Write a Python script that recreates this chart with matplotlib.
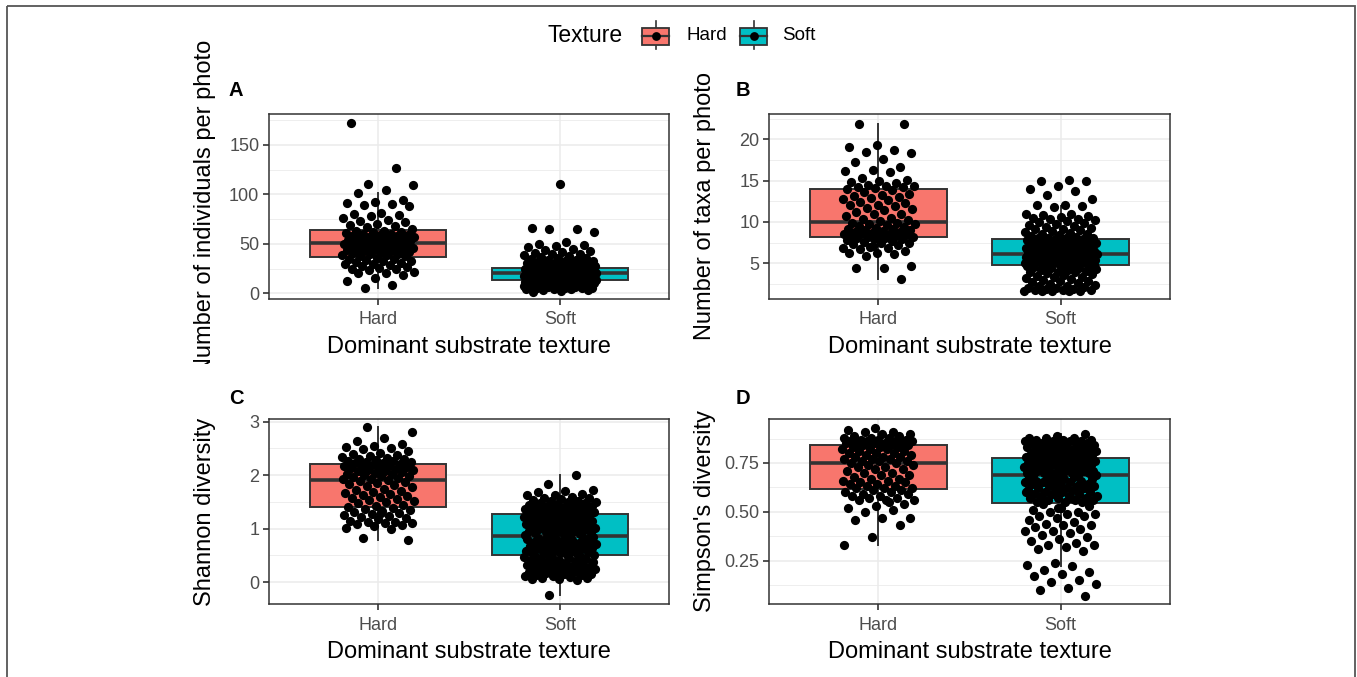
import matplotlib
matplotlib.use("Agg")
import matplotlib.pyplot as plt
import numpy as np
from matplotlib.patches import Rectangle
from matplotlib.transforms import Bbox

plt.rcParams['font.family'] = ['Liberation Sans', 'DejaVu Sans']

# ---------------- data ----------------
categories = ["Hard", "Soft"]
texture_colors = ["#F8766D", "#00BFC4"]
panel_letters = ["A", "B", "C", "D"]
y_titles = ["Number of individuals per photo", "Number of taxa per photo",
            "Shannon diversity", "Simpson's diversity"]
x_title = "Dominant substrate texture"
legend_title = "Texture"

# Panel A: individuals per photo
A_hard = [172, 127, 111, 109, 104, 101, 94, 92, 91, 90, 89, 88, 81, 80, 79, 78, 76, 74, 73, 72, 70, 69, 68, 67, 65,
          63, 63, 62, 62, 61, 60, 60, 59, 59, 58, 58, 57, 57, 56, 56, 55, 55, 54, 54, 53, 53, 52, 52, 51, 51,
          50, 50, 49, 49, 48, 48, 47, 47, 46, 46, 45, 45, 44, 44, 43, 43, 42, 42, 41, 40, 40, 39, 39, 38, 38,
          36, 35, 35, 34, 33, 33, 32, 31, 30, 30, 29, 28, 27, 26, 25, 25, 24, 22, 21, 20, 18, 15, 12, 8, 5]
A_soft = [111, 66, 65, 65, 62, 52, 50, 49, 48, 47, 45, 44, 43, 42, 41, 40, 40, 39, 38, 37, 36, 36, 35, 34, 34,
          33, 33, 32, 32, 31, 31, 30, 30, 29, 29, 29, 28, 28, 28, 27, 27, 27, 27, 26, 26,
          26, 26, 25, 25, 25, 25, 25, 24, 24, 24, 24, 24, 24, 23, 23, 23, 23, 23, 23, 22, 22, 22, 22, 22,
          22, 22, 22, 21, 21, 21, 21, 21, 21, 21, 21, 21, 21, 21, 21, 21, 21, 21, 21, 21, 21,
          20, 20, 20, 20, 19, 19, 19, 19, 19, 18, 18, 18, 18, 18, 17, 17, 17, 17, 17, 16, 16, 16, 16, 16,
          16, 15, 15, 15, 15, 15, 15, 14, 14, 14, 14, 14, 14, 13, 13, 13, 13, 13, 13, 13, 13,
          12, 12, 12, 12, 12, 11, 11, 11, 11, 11, 10, 10, 10, 10, 10, 9, 9, 9, 9, 9, 8, 8, 8, 8, 8,
          7, 7, 7, 7, 7, 6, 6, 6, 6, 5, 5, 5, 5, 4, 4, 4, 3, 3, 2, 1]

# Panel B: taxa per photo
B_hard = [21.8, 21.8, 19.3, 19.0, 18.7, 18.5, 18.3, 17.6, 17.2, 16.7, 16.3, 16.2, 16.0, 15.3, 15.1, 14.9, 14.8,
          14.7, 14.5, 14.4, 14.3, 14.2, 14.2, 14.1, 14.0,
          13.8, 13.6, 13.4, 13.2, 13.1, 13.0, 12.9, 12.8, 12.6, 12.4, 12.3, 12.1, 12.0, 11.9, 11.7, 11.6, 11.4,
          11.2, 11.0, 10.9, 10.7, 10.5, 10.3, 10.2, 10.1,
          9.9, 9.9, 9.8, 9.7, 9.6, 9.5, 9.4, 9.3, 9.2, 9.1, 9.0, 9.0, 8.9, 8.8, 8.8, 8.7, 8.6, 8.6, 8.5, 8.4,
          8.4, 8.3, 8.3, 8.2, 8.2,
          8.1, 8.0, 7.9, 7.9, 7.8, 7.7, 7.6, 7.5, 7.4, 7.3, 7.2, 7.0, 6.9, 6.8, 6.7, 6.5, 6.3, 6.2, 6.1, 5.9,
          4.7, 4.4, 4.4, 3.1, 7.1]
B_soft = [15.1, 15.0, 14.9, 14.4, 14.0, 13.7, 13.3, 12.8, 12.0, 12.0, 11.9, 11.8, 11.0, 10.9, 10.8, 10.7, 10.6,
          10.5, 10.4, 10.3, 10.2, 10.1, 10.0, 9.9, 9.8, 9.6, 9.5, 9.4, 9.3, 9.2, 9.1, 9.0, 8.9, 8.8, 8.7, 8.6,
          8.5, 8.4, 8.3, 8.2, 8.1, 8.1, 8.0, 8.0, 7.9,
          7.9, 7.8, 7.8, 7.7, 7.7, 7.6, 7.6, 7.5, 7.5, 7.4, 7.4, 7.3, 7.3, 7.2, 7.2, 7.1, 7.1, 7.0, 7.0, 6.9,
          6.9, 6.9, 6.8, 6.8, 6.8, 6.7, 6.7, 6.6, 6.6, 6.6, 6.5, 6.5, 6.5, 6.4, 6.4, 6.4, 6.3, 6.3, 6.3, 6.2,
          6.2, 6.2, 6.1, 6.1, 6.1,
          6.0, 6.0, 6.0, 5.9, 5.9, 5.9, 5.8, 5.8, 5.8, 5.7, 5.7, 5.7, 5.6, 5.6, 5.6, 5.5, 5.5, 5.5, 5.4, 5.4,
          5.4, 5.3, 5.3, 5.3, 5.2, 5.2, 5.2, 5.1, 5.1, 5.1, 5.0, 5.0, 5.0, 5.0, 4.9, 4.9, 4.9, 4.9, 4.8, 4.8,
          4.8, 4.8, 6.0, 5.5, 5.2,
          4.7, 4.7, 4.6, 4.6, 4.5, 4.5, 4.4, 4.4, 4.3, 4.2, 4.2, 4.1, 4.0, 4.0, 3.9, 3.8, 3.7, 3.6, 3.5, 3.4,
          3.3, 3.2, 3.1, 3.0, 2.9, 2.8, 2.7, 2.6, 2.5, 2.4, 2.3, 2.2, 2.1, 2.0, 2.0, 1.9, 1.9, 1.8, 1.8, 1.8,
          1.7, 1.7, 1.7, 1.6, 1.6]

# Panel C: Shannon diversity
C_hard = [2.90, 2.80, 2.70, 2.63, 2.58, 2.55, 2.52, 2.50, 2.49, 2.45, 2.42, 2.40, 2.38, 2.36, 2.34, 2.32, 2.31,
          2.30, 2.28, 2.27, 2.26, 2.25, 2.24, 2.23, 2.22,
          2.20, 2.19, 2.18, 2.17, 2.16, 2.15, 2.14, 2.13, 2.12, 2.10, 2.09, 2.08, 2.07, 2.05, 2.04, 2.03, 2.02,
          2.00, 1.99, 1.98, 1.96, 1.95, 1.93, 1.92, 1.91,
          1.89, 1.87, 1.85, 1.83, 1.81, 1.79, 1.77, 1.75, 1.73, 1.71, 1.69, 1.67, 1.65, 1.63, 1.61, 1.59, 1.57,
          1.55, 1.53, 1.51, 1.49, 1.47, 1.45, 1.43, 1.41,
          1.39, 1.37, 1.35, 1.33, 1.31, 1.29, 1.27, 1.25, 1.24, 1.22, 1.20, 1.18, 1.15, 1.13, 1.12, 1.11, 1.10,
          1.09, 1.06, 1.04, 1.02, 1.00, 0.82, 0.78, 1.30]
C_soft = [2.00, 1.83, 1.72, 1.70, 1.68, 1.65, 1.63, 1.62, 1.60, 1.58, 1.57, 1.55, 1.54, 1.52, 1.51, 1.50, 1.49,
          1.48, 1.47, 1.46, 1.45, 1.44, 1.43, 1.42, 1.41, 1.40, 1.39, 1.38, 1.37, 1.36, 1.36, 1.35, 1.34, 1.33,
          1.33, 1.32, 1.31, 1.31, 1.30, 1.30, 1.29, 1.29, 1.28, 1.28, 1.27,
          1.26, 1.25, 1.24, 1.23, 1.22, 1.21, 1.20, 1.19, 1.18, 1.17, 1.16, 1.15, 1.14, 1.13, 1.12, 1.11, 1.10,
          1.09, 1.08, 1.07, 1.06, 1.05, 1.04, 1.03, 1.02, 1.01, 1.00, 0.99, 0.98, 0.97, 0.96, 0.95, 0.94, 0.93,
          0.92, 0.91, 0.90, 0.89, 0.88, 0.88, 1.05, 1.10, 0.95, 1.00, 1.15,
          0.86, 0.85, 0.84, 0.83, 0.82, 0.81, 0.80, 0.79, 0.78, 0.77, 0.76, 0.75, 0.74, 0.73, 0.72, 0.71, 0.70,
          0.69, 0.68, 0.67, 0.66, 0.65, 0.64, 0.63, 0.62, 0.61, 0.60, 0.59, 0.58, 0.57, 0.56, 0.55, 0.54, 0.53,
          0.52, 0.51, 0.50, 0.70, 0.65, 0.80, 0.60, 0.75, 0.55, 0.85, 0.68,
          0.49, 0.48, 0.47, 0.46, 0.45, 0.44, 0.43, 0.42, 0.41, 0.40, 0.39, 0.37, 0.36, 0.35, 0.34, 0.33, 0.32,
          0.31, 0.30, 0.29, 0.28, 0.27, 0.26, 0.25, 0.24, 0.23, 0.22, 0.21, 0.20, 0.19, 0.18, 0.17, 0.16, 0.15,
          0.14, 0.13, 0.12, 0.11, 0.10, 0.08, 0.07, 0.06, 0.05, 0.03, -0.25]

# Panel D: Simpson's diversity
D_hard = [0.93, 0.92, 0.91, 0.91, 0.90, 0.90, 0.89, 0.89, 0.88, 0.88, 0.88, 0.87, 0.87, 0.87, 0.86, 0.86, 0.86,
          0.86, 0.85, 0.85, 0.85, 0.85, 0.85, 0.84, 0.84,
          0.84, 0.83, 0.83, 0.83, 0.82, 0.82, 0.82, 0.81, 0.81, 0.80, 0.80, 0.80, 0.79, 0.79, 0.78, 0.78, 0.78,
          0.77, 0.77, 0.77, 0.76, 0.76, 0.76, 0.75, 0.75,
          0.74, 0.74, 0.73, 0.73, 0.72, 0.72, 0.71, 0.70, 0.70, 0.69, 0.69, 0.68, 0.67, 0.67, 0.66, 0.66, 0.65,
          0.65, 0.64, 0.64, 0.63, 0.63, 0.62, 0.62, 0.62,
          0.61, 0.61, 0.60, 0.60, 0.59, 0.59, 0.58, 0.58, 0.57, 0.57, 0.56, 0.56, 0.56, 0.54, 0.53, 0.52, 0.51,
          0.50, 0.47, 0.47, 0.46, 0.43, 0.37, 0.33, 0.55]
D_soft = [0.90, 0.89, 0.88, 0.88, 0.88, 0.87, 0.87, 0.87, 0.86, 0.86, 0.86, 0.86, 0.85, 0.85, 0.85, 0.85, 0.84,
          0.84, 0.84, 0.84, 0.83, 0.83, 0.83, 0.83, 0.82, 0.82, 0.82, 0.82, 0.81, 0.81, 0.81, 0.81, 0.80, 0.80,
          0.80, 0.80, 0.79, 0.79, 0.79, 0.79, 0.78, 0.78, 0.78, 0.78, 0.78,
          0.777, 0.77, 0.77, 0.77, 0.77, 0.76, 0.76, 0.76, 0.76, 0.76, 0.75, 0.75, 0.75, 0.75, 0.75, 0.74, 0.74,
          0.74, 0.74, 0.74, 0.73, 0.73, 0.73, 0.73, 0.72, 0.72, 0.72, 0.72, 0.71, 0.71, 0.71, 0.71, 0.70, 0.70,
          0.70, 0.70, 0.70, 0.69, 0.69, 0.69, 0.69, 0.69, 0.73, 0.75, 0.71,
          0.68, 0.68, 0.68, 0.67, 0.67, 0.67, 0.66, 0.66, 0.66, 0.65, 0.65, 0.65, 0.64, 0.64, 0.64, 0.63, 0.63,
          0.63, 0.62, 0.62, 0.62, 0.61, 0.61, 0.61, 0.60, 0.60, 0.60, 0.59, 0.59, 0.59, 0.58, 0.58, 0.58, 0.57,
          0.57, 0.57, 0.56, 0.56, 0.56, 0.55, 0.55, 0.55, 0.64, 0.60, 0.57,
          0.54, 0.53, 0.52, 0.51, 0.50, 0.50, 0.49, 0.49, 0.48, 0.48, 0.47, 0.46, 0.45, 0.44, 0.43, 0.43, 0.42,
          0.41, 0.40, 0.40, 0.39, 0.38, 0.37, 0.36, 0.35, 0.34, 0.33, 0.33, 0.32, 0.31, 0.30, 0.24, 0.23, 0.22,
          0.20, 0.19, 0.18, 0.17, 0.15, 0.14, 0.13, 0.11, 0.10, 0.07, 0.52]

# Box statistics: [Hard, Soft]
A_q1, A_med, A_q3, A_lo, A_hi = [37, 13], [51, 20.5], [64, 26], [5.5, 1], [101, 45]
B_q1, B_med, B_q3, B_lo, B_hi = [8.2, 4.75], [10, 6.1], [14, 7.9], [3.1, 2.0], [21.8, 11.9]
C_q1, C_med, C_q3, C_lo, C_hi = [1.40, 0.50], [1.90, 0.87], [2.21, 1.27], [0.78, -0.25], [2.90, 2.00]
D_q1, D_med, D_q3, D_lo, D_hi = [0.618, 0.547], [0.75, 0.69], [0.842, 0.777], [0.33, 0.22], [0.93, 0.90]

# Axis ticks
A_ticks, A_ticklabels = [0, 50, 100, 150], ["0", "50", "100", "150"]
B_ticks, B_ticklabels = [5, 10, 15, 20], ["5", "10", "15", "20"]
C_ticks, C_ticklabels = [0, 1, 2, 3], ["0", "1", "2", "3"]
D_ticks, D_ticklabels = [0.25, 0.50, 0.75], ["0.25", "0.50", "0.75"]

# ---------------- layout ----------------
W, H = 1357, 677
fig = plt.figure(figsize=(W / 100, H / 100), dpi=100)
fig.patch.set_facecolor("white")

def px_axes(left, top, right, bottom):
    return fig.add_axes([left / W, 1 - bottom / H, (right - left) / W, (bottom - top) / H])

panels = [
    dict(box=(269, 114, 669, 299), hard=A_hard, soft=A_soft,
         stats=(A_q1, A_med, A_q3, A_lo, A_hi), ylim=(-5.8, 181.3),
         ticks=A_ticks, labels=A_ticklabels, minor=[25, 75, 125, 175]),
    dict(box=(769, 114, 1170, 299), hard=B_hard, soft=B_soft,
         stats=(B_q1, B_med, B_q3, B_lo, B_hi), ylim=(0.68, 23.05),
         ticks=B_ticks, labels=B_ticklabels, minor=[2.5, 7.5, 12.5, 17.5, 22.5]),
    dict(box=(269, 419, 669, 604), hard=C_hard, soft=C_soft,
         stats=(C_q1, C_med, C_q3, C_lo, C_hi), ylim=(-0.41, 3.05),
         ticks=C_ticks, labels=C_ticklabels, minor=[0.5, 1.5, 2.5]),
    dict(box=(769, 419, 1170, 604), hard=D_hard, soft=D_soft,
         stats=(D_q1, D_med, D_q3, D_lo, D_hi), ylim=(0.028, 0.975),
         ticks=D_ticks, labels=D_ticklabels, minor=[0.125, 0.375, 0.625, 0.875]),
]

EDGE = "#333333"
GRID = "#EBEBEB"
TICKC = "#4D4D4D"

def jitter(n, width, phase):
    i = np.arange(n)
    return width * (2 * ((i * 0.6180339887 + phase) % 1.0) - 1)

for k, p in enumerate(panels):
    ax = px_axes(*p["box"])
    ax.set_facecolor("white")
    ax.set_xlim(0.4, 2.6)
    ax.set_ylim(*p["ylim"])
    ax.set_axisbelow(True)
    q1, med, q3, lo, hi = p["stats"]
    stats = []
    for j, c in enumerate(categories):
        stats.append(dict(label=c, q1=q1[j], med=med[j], q3=q3[j], whislo=lo[j], whishi=hi[j], fliers=[]))
    bp = ax.bxp(stats, positions=[1, 2], widths=0.75, patch_artist=True, showfliers=False,
                showcaps=False,
                boxprops=dict(edgecolor=EDGE, linewidth=1.4),
                medianprops=dict(color=EDGE, linewidth=2.6, solid_capstyle="butt"),
                whiskerprops=dict(color=EDGE, linewidth=1.4))
    for patch, col in zip(bp["boxes"], texture_colors):
        patch.set_facecolor(col)
        patch.set_zorder(2)
    for ln in bp["medians"]:
        ln.set_zorder(2.5)
    for ln in bp["whiskers"]:
        ln.set_zorder(1.9)
    for j, vals in enumerate([p["hard"], p["soft"]]):
        vals = np.asarray(vals, dtype=float)
        xs = (j + 1) + jitter(len(vals), 0.2, 0.13 + 0.37 * j + 0.11 * k)
        ax.scatter(xs, vals, s=44, c="black", linewidths=0, zorder=4)
    ax.set_xticks([1, 2])
    ax.set_xticklabels(categories)
    ax.set_yticks(p["ticks"])
    ax.set_yticklabels(p["labels"])
    ax.set_yticks(p["minor"], minor=True)
    ax.grid(True, which="major", color=GRID, linewidth=1.1)
    ax.grid(True, which="minor", axis="y", color=GRID, linewidth=0.6)
    ax.tick_params(which="minor", length=0)
    ax.tick_params(which="major", length=4.5, width=1.2, color=EDGE, labelcolor=TICKC,
                   labelsize=13, pad=2.5)
    ax.tick_params(axis="x", which="major", pad=4.5)
    for s in ax.spines.values():
        s.set_color(EDGE)
        s.set_linewidth(1.1)
    ax.set_xlabel(x_title, fontsize=17, color="black", labelpad=5.5)

# ---------------- overlay: labels, legend, border ----------------
ov = fig.add_axes([0, 0, 1, 1], zorder=10)
ov.set_xlim(0, W)
ov.set_ylim(H, 0)
ov.axis("off")
ov.patch.set_alpha(0)

ylab_pos = [(205, 206.5), (705, 206.5), (205, 511.5), (705, 511.5)]
for k, ((x, y), txt) in enumerate(zip(ylab_pos, y_titles)):
    t = ov.text(x, y, txt, rotation=90, ha="center", va="center", fontsize=17, color="black",
                clip_on=(k == 0))
    if k == 0:
        t.set_clip_path(None)
        t.set_clip_box(Bbox.from_extents(0, H - 364, W, H))

letter_pos = [(236, 90), (743, 90), (236, 398), (743, 398)]
for (x, y), L in zip(letter_pos, panel_letters):
    ov.text(x, y, L, ha="center", va="center", fontsize=14.5, fontweight="bold", color="black")

# legend
ov.text(548, 36, legend_title, ha="left", va="center", fontsize=16.5, color="black")
key_x = [642, 740]
label_x = [686, 782]
for kx, lx, col, lab in zip(key_x, label_x, texture_colors, categories):
    cx = kx + 13.5
    ov.plot([cx, cx], [21, 49], color=EDGE, lw=1.2, zorder=1)
    ov.add_patch(Rectangle((kx, 27.5), 27, 17, facecolor=col, edgecolor=EDGE, lw=1.3, zorder=2))
    ov.plot([kx, kx + 27], [36, 36], color=EDGE, lw=1.6, zorder=3)
    ov.scatter([cx], [36], s=40, c="black", linewidths=0, zorder=4)
    ov.text(lx, 36, lab, ha="left", va="center", fontsize=13.5, color="black")

# outer frame
ov.add_patch(Rectangle((7, 6), 1348, 690, fill=False, edgecolor="#555555", lw=1.3, clip_on=False))

fig.savefig("out.png", dpi=100, facecolor="white")
